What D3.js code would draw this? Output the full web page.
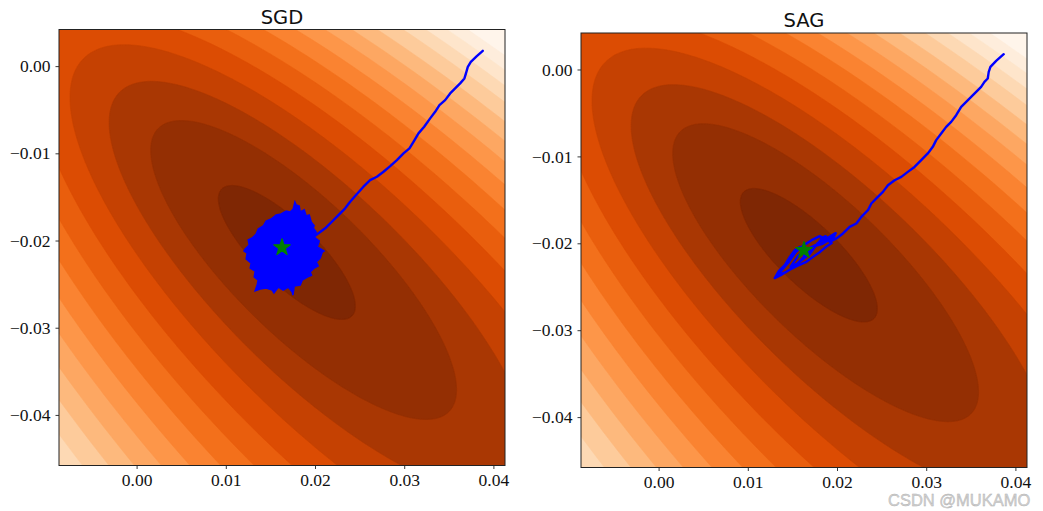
<!DOCTYPE html>
<html><head><meta charset="utf-8">
<script src="https://cdn.jsdelivr.net/npm/d3@7"></script>
<style>body{margin:0;background:#fff}svg{display:block}</style>
</head><body>
<svg id="chart" width="1043" height="511"></svg>
<script>
// ---------------- data ----------------
const xDomain = [-0.0087, 0.0413];
const yDomain = [-0.0458, 0.0042];
const xTicks = [0.00, 0.01, 0.02, 0.03, 0.04];
const yTicks = [0.00, -0.01, -0.02, -0.03, -0.04];
const panelTitles = ["SGD", "SAG"];
const optimum = [0.0163, -0.0208];

// contour boundaries of the loss (innermost first): semi-major axis, centre offset along major / minor axis
const levelSemiMajor = [0.01031, 0.02300, 0.03173, 0.04068, 0.04929, 0.05745, 0.06527, 0.07286,
                        0.08023, 0.08737, 0.09439, 0.10176, 0.10833, 0.11479, 0.12113];
const levelShiftMajor = [0.00079, 0.00354, 0.00627, 0.00963, 0.01331, 0.01713, 0.02105, 0.02508,
                         0.02914, 0.03322, 0.03737, 0.04182, 0.04589, 0.04996, 0.05402];
const levelShiftMinor = [-0.00002, -0.00011, -0.00023, -0.00036, -0.00053, -0.00073, -0.00094, -0.00117,
                         -0.00142, -0.00169, -0.00196, -0.00229, -0.00258, -0.00291, -0.00324];
const levelAspect = 3.0;
const majorAxisAngleDeg = -45;
const bandCount = 16;
const orangesStops = ["#fff5eb","#fee6ce","#fdd0a2","#fdae6b","#fd8d3c","#f16913","#d94801","#a63603","#7f2704"];

const sgdPath = [[0.03881,0.00175],[0.03814,0.00115],[0.03747,0.00049],[0.03713,-0.00008],[0.03694,-0.00077],
 [0.03675,-0.00141],[0.03627,-0.00198],[0.03571,-0.00256],[0.03515,-0.00313],[0.03459,-0.00390],
 [0.03395,-0.00447],[0.03347,-0.00524],[0.03291,-0.00599],[0.03224,-0.00696],[0.03160,-0.00771],
 [0.03104,-0.00868],[0.03059,-0.00943],[0.02992,-0.01001],[0.02918,-0.01077],[0.02843,-0.01146],
 [0.02768,-0.01211],[0.02694,-0.01269],[0.02618,-0.01307],[0.02543,-0.01383],[0.02470,-0.01467],
 [0.02394,-0.01555],[0.02338,-0.01631],[0.02263,-0.01708],[0.02189,-0.01785],[0.02114,-0.01860],
 [0.02039,-0.01917],[0.01980,-0.01960]];
const sgdCloud = [[0.01756,-0.01639],[0.01775,-0.01560],[0.01789,-0.01593],[0.01823,-0.01605],[0.01834,-0.01673],[0.01879,-0.01650],
 [0.01901,-0.01719],[0.01935,-0.01708],[0.01957,-0.01788],[0.01990,-0.01830],[0.01980,-0.01857],[0.02013,-0.01903],
 [0.01991,-0.01960],[0.02047,-0.02006],[0.02025,-0.02074],[0.02100,-0.02120],[0.02081,-0.02132],[0.02058,-0.02201],
 [0.02013,-0.02246],[0.02035,-0.02290],[0.01991,-0.02315],[0.01946,-0.02361],[0.01960,-0.02400],[0.01913,-0.02418],[0.01857,-0.02453],
 [0.01834,-0.02510],[0.01767,-0.02521],[0.01752,-0.02625],[0.01745,-0.02590],[0.01700,-0.02533],[0.01644,-0.02567],
 [0.01588,-0.02533],[0.01540,-0.02600],[0.01520,-0.02567],[0.01453,-0.02544],[0.01386,-0.02556],[0.01330,-0.02575],[0.01352,-0.02510],
 [0.01364,-0.02453],[0.01319,-0.02418],[0.01330,-0.02350],[0.01274,-0.02315],[0.01285,-0.02258],
 [0.01229,-0.02212],[0.01240,-0.02143],[0.01205,-0.02120],[0.01218,-0.02097],[0.01263,-0.02052],[0.01252,-0.01994],
 [0.01296,-0.01971],[0.01341,-0.01926],[0.01364,-0.01868],[0.01420,-0.01834],[0.01453,-0.01777],
 [0.01509,-0.01754],[0.01565,-0.01708],[0.01621,-0.01696],[0.01677,-0.01662],[0.01722,-0.01673]];
const sagPath = [[0.03869,0.00176],[0.03784,0.00099],[0.03720,0.00030],[0.03701,-0.00028],[0.03690,-0.00104],
 [0.03653,-0.00143],[0.03616,-0.00200],[0.03560,-0.00258],[0.03504,-0.00315],[0.03448,-0.00373],
 [0.03392,-0.00430],[0.03336,-0.00526],[0.03280,-0.00603],[0.03224,-0.00660],[0.03168,-0.00736],
 [0.03112,-0.00813],[0.03074,-0.00890],[0.03018,-0.00966],[0.02944,-0.01043],[0.02869,-0.01121],
 [0.02794,-0.01178],[0.02721,-0.01236],[0.02646,-0.01274],[0.02571,-0.01331],[0.02515,-0.01408],
 [0.02441,-0.01484],[0.02385,-0.01542],[0.02347,-0.01619],[0.02273,-0.01696],[0.02217,-0.01772],
 [0.02142,-0.01811],[0.02067,-0.01887],[0.01993,-0.01944],[0.01918,-0.01983],
 [0.01873,-0.01918],[0.01828,-0.01941],[0.01783,-0.02010],[0.01716,-0.02044],[0.01649,-0.02079],
 [0.01582,-0.02044],[0.01526,-0.02079],[0.01470,-0.02159],[0.01414,-0.02251],[0.01347,-0.02320],
 [0.01302,-0.02401],[0.01369,-0.02367],[0.01459,-0.02309],[0.01548,-0.02263],[0.01649,-0.02217],
 [0.01728,-0.02159],[0.01806,-0.02102],[0.01873,-0.02044],[0.01940,-0.01998],[0.01895,-0.01964],
 [0.01806,-0.01918],[0.01716,-0.01964],[0.01627,-0.02021],[0.01537,-0.02102],[0.01459,-0.02217],
 [0.01380,-0.02309],[0.01336,-0.02367],[0.01425,-0.02332],[0.01526,-0.02263],[0.01616,-0.02171],
 [0.01672,-0.02102],[0.01750,-0.02033],[0.01828,-0.02010],[0.01907,-0.01964],[0.01963,-0.01929],
 [0.01985,-0.01883],[0.01873,-0.01952],[0.01783,-0.01998],[0.01694,-0.02125],[0.01627,-0.02171],
 [0.01638,-0.02079],[0.01560,-0.02150],[0.01480,-0.02270],[0.01560,-0.02230],[0.01660,-0.02150]];

// ---------------- layout ----------------
const panels = [
  {title: panelTitles[0], x0: 59, x1: 505, y0: 29.5, y1: 465.5, path: sgdPath, cloud: sgdCloud},
  {title: panelTitles[1], x0: 581, x1: 1027, y0: 33, y1: 467.5, path: sagPath, cloud: null}
];

const svg = d3.select("#chart");
const oranges = d3.scaleLinear().domain(d3.range(9).map(i => i / 8)).range(orangesStops).interpolate(d3.interpolateRgb);
const bandColor = k => oranges(1 - k / (bandCount - 1));
const fmt = v => d3.format(".2f")(v).replace("-", "\u2212");

const ang = majorAxisAngleDeg * Math.PI / 180;
const ux = Math.cos(ang), uy = Math.sin(ang);      // major axis direction (data space)
const vx = -uy, vy = ux;                            // minor axis direction
function ellipsePoints(k) {
  const a = levelSemiMajor[k], b = a / levelAspect;
  const cx = optimum[0] + levelShiftMajor[k] * ux + levelShiftMinor[k] * vx;
  const cy = optimum[1] + levelShiftMajor[k] * uy + levelShiftMinor[k] * vy;
  return d3.range(0, 360, 1).map(d => {
    const t = d * Math.PI / 180;
    const ca = a * Math.cos(t), sb = b * Math.sin(t);
    return [cx + ca * ux + sb * vx, cy + ca * uy + sb * vy];
  });
}

panels.forEach((p, i) => {
  const x = d3.scaleLinear().domain(xDomain).range([p.x0, p.x1]);
  const y = d3.scaleLinear().domain(yDomain).range([p.y1, p.y0]);
  const g = svg.append("g");
  const clipId = "clip" + i;
  g.append("clipPath").attr("id", clipId).append("rect")
    .attr("x", p.x0).attr("y", p.y0).attr("width", p.x1 - p.x0).attr("height", p.y1 - p.y0);
  const plot = g.append("g").attr("clip-path", `url(#${clipId})`);
  plot.append("rect").attr("x", p.x0).attr("y", p.y0).attr("width", p.x1 - p.x0).attr("height", p.y1 - p.y0)
    .attr("fill", bandColor(bandCount - 1));
  const closed = d3.line().x(d => x(d[0])).y(d => y(d[1])).curve(d3.curveLinearClosed);
  for (let k = levelSemiMajor.length - 1; k >= 0; k--) {
    plot.append("path").attr("d", closed(ellipsePoints(k)))
      .attr("fill", bandColor(k)).attr("stroke", bandColor(k)).attr("stroke-width", 0.6);
  }
  const pline = d3.line().x(d => x(d[0])).y(d => y(d[1])).curve(d3.curveLinear);
  if (p.cloud) {
    plot.append("path").attr("d", closed(p.cloud))
      .attr("fill", "#0000ff").attr("stroke", "#0000ff").attr("stroke-width", 1.6).attr("stroke-linejoin", "miter");
  }
  plot.append("path").attr("d", pline(p.path)).attr("fill", "none").attr("stroke", "#0000ff")
    .attr("stroke-width", 2.4).attr("stroke-linejoin", "round").attr("stroke-linecap", "round");
  plot.append("path").attr("d", d3.symbol(d3.symbolStar, 85)())
    .attr("transform", `translate(${x(optimum[0])},${y(optimum[1])})`)
    .attr("fill", "#008000").attr("stroke", "#008000").attr("stroke-width", 1.2).attr("stroke-linejoin", "round");

  // frame
  g.append("rect").attr("x", p.x0).attr("y", p.y0).attr("width", p.x1 - p.x0).attr("height", p.y1 - p.y0)
    .attr("fill", "none").attr("stroke", "#222").attr("stroke-width", 1);

  const xa = g.append("g").attr("transform", `translate(0,${p.y1})`)
    .call(d3.axisBottom(x).tickValues(xTicks).tickFormat(fmt).tickSize(3.5).tickPadding(5));
  const ya = g.append("g").attr("transform", `translate(${p.x0},0)`)
    .call(d3.axisLeft(y).tickValues(yTicks).tickFormat(fmt).tickSize(3.5).tickPadding(5));
  [xa, ya].forEach(a => {
    a.select(".domain").remove();
    a.selectAll(".tick line").attr("stroke", "#222").attr("stroke-width", 0.9);
    a.selectAll(".tick text").attr("font-family", "'Liberation Serif', serif").attr("font-size", 17.5).attr("fill", "#111");
  });
  g.append("text").attr("x", (p.x0 + p.x1) / 2).attr("y", p.y0 - 6).attr("text-anchor", "middle")
    .attr("font-family", "'DejaVu Sans', sans-serif").attr("font-size", 19.5).attr("fill", "#111").text(p.title);
});

svg.append("text").attr("x", 888).attr("y", 506).attr("font-family", "'Liberation Sans', Arial, sans-serif")
  .attr("font-size", 16.5).attr("fill", "#d2d2d2").attr("stroke", "#b0b0b0").attr("stroke-width", 0.4)
  .text("CSDN @MUKAMO");
</script>
</body></html>
